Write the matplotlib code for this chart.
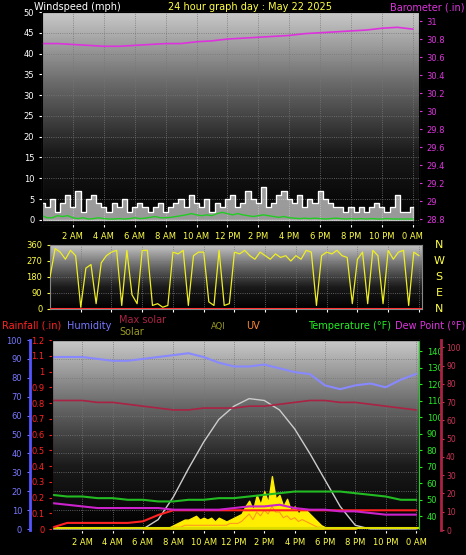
import numpy as np
import matplotlib.pyplot as plt
from matplotlib.colors import LinearSegmentedColormap

W, H = 466, 555
hour_labels = ['2 AM', '4 AM', '6 AM', '8 AM', '10 AM', '12 PM', '2 PM', '4 PM',
               '6 PM', '8 PM', '10 PM', '0 AM']
hour_ticks = [2, 4, 6, 8, 10, 12, 14, 16, 18, 20, 22, 24]

# wind (mph), every 20 min
t_wind = np.arange(0, 24.01, 1 / 3)
gust = [4, 3, 5, 2, 4, 6, 3, 7, 2, 5, 6, 4, 3, 2, 4, 3, 5, 2, 3, 4, 3, 2, 3, 4,
        2, 3, 4, 5, 3, 6, 4, 3, 5, 2, 4, 3, 5, 6, 3, 4, 7, 5, 4, 8, 3, 4, 6, 7,
        5, 4, 6, 3, 5, 4, 7, 5, 4, 3, 3, 2, 3, 2, 3, 2, 3, 4, 3, 2, 3, 6, 2, 2,
        3]
wavg = [1, 0.5, 0.5, 1, 0.8, 1, 0.5, 0.3, 0.5, 0.2, 0.3, 0.5, 0.3, 0.2, 0.2, 0.3,
        0.2, 0.3, 0.5, 0.3, 0.4, 0.6, 0.8, 0.5, 0.5, 0.6, 0.8, 1, 1.2, 1.5, 1.2,
        1, 1.2, 1, 1.5, 1.8, 1.5, 1.2, 1.5, 1.2, 1, 0.8, 1, 1.2, 1, 0.8, 0.6,
        0.8, 0.5, 0.4, 0.3, 0.4, 0.3, 0.4, 0.3, 0.2, 0.3, 0.4, 0.3, 0.2, 0.3,
        0.2, 0.3, 0.2, 0.3, 0.2, 0.2, 0.3, 0.2, 0.2, 0.2, 0.2, 0.2]

# barometer (in), hourly
t_hour = np.arange(0, 25)
baro = [30.75, 30.75, 30.74, 30.73, 30.72, 30.72, 30.73, 30.74, 30.75, 30.75,
        30.77, 30.78, 30.80, 30.81, 30.82, 30.83, 30.84, 30.86, 30.87, 30.88,
        30.89, 30.90, 30.92, 30.93, 30.91]

# wind direction (deg), every 20 min
wdir = [180, 340, 320, 280, 330, 300, 10, 230, 250, 30, 260, 300, 320, 330, 20,
        330, 80, 30, 330, 330, 20, 30, 10, 20, 320, 310, 330, 20, 300, 320, 320,
        40, 20, 330, 20, 30, 320, 310, 330, 300, 280, 320, 300, 280, 310, 290,
        300, 270, 300, 280, 330, 320, 20, 300, 320, 310, 330, 300, 290, 30, 280,
        320, 30, 330, 300, 30, 330, 280, 320, 330, 20, 320, 300]

# bottom panel, hourly
humidity = [91, 91, 91, 90, 89, 89, 90, 91, 92, 93, 91, 88, 86, 86, 87, 85,
            83, 82, 76, 74, 76, 77, 75, 79, 82]
maxsolar = [68, 68, 68, 67, 67, 66, 65, 64, 63, 63, 64, 64, 64, 65, 65, 66,
            67, 68, 68, 67, 67, 66, 65, 64, 63]
theo_solar = [0, 0, 0, 0, 0, 0, 0, 5, 17, 32, 46, 58, 65, 69, 68, 63, 53,
              40, 26, 12, 2, 0, 0, 0, 0]
temperature = [53, 52, 52, 51, 51, 50, 50, 49, 49, 50, 50, 51, 51, 52, 53, 54,
               55, 55, 55, 55, 54, 53, 52, 50, 50]
dewpoint = [48, 47, 46, 45, 45, 45, 45, 45, 44, 44, 44, 44, 45, 46, 46, 47,
            45, 44, 44, 43, 43, 42, 41, 41, 41]
rain = [0.01, 0.04, 0.04, 0.04, 0.04, 0.04, 0.05, 0.09, 0.12, 0.12, 0.12, 0.12,
        0.12, 0.12, 0.12, 0.12, 0.12, 0.12, 0.12, 0.12, 0.12, 0.12, 0.12, 0.12,
        0.12]
t_sol = np.arange(6, 20.01, 0.25)
solar = [0, 0, 0, 0, 0, 0, 0, 1, 2, 3, 4, 5, 5, 6, 7, 5, 6, 5, 6, 4, 6, 5, 4,
         5, 6, 7, 8, 12, 15, 10, 18, 13, 20, 14, 28, 16, 18, 12, 16, 10, 12, 8,
         11, 10, 8, 6, 4, 2, 1, 1, 0, 0, 0, 0, 0, 0, 0]
uv = [0, 0, 0, 0, 0, 0, 0, 0, 1, 1, 1, 2, 2, 2, 2, 2, 2, 2, 2, 2, 2, 2, 2, 3,
      3, 3, 4, 6, 8, 5, 9, 7, 10, 8, 12, 9, 9, 6, 7, 5, 6, 4, 5, 4, 3, 2, 1, 1,
      0, 0, 0, 0, 0, 0, 0, 0, 0]

plt.rcParams['font.family'] = 'DejaVu Sans'
plt.rcParams['font.size'] = 6
fig = plt.figure(figsize=(W / 100, H / 100), dpi=100, facecolor='black')

cmap = LinearSegmentedColormap.from_list('bg', ['#c8c8c8', '#6a6a6a', '#1a1a1a', '#000000'])


def box(l, t, r, b):
    return fig.add_axes([l / W, 1 - b / H, (r - l) / W, (b - t) / H])


def style(ax, grad=True):
    ax.set_facecolor('black')
    if grad:
        ax.imshow(np.linspace(0, 1, 100)[:, None], aspect='auto', cmap=cmap,
                  extent=[0, 1, 0, 1], transform=ax.transAxes, zorder=0)
    for s in ax.spines.values():
        s.set_color('#888888')
    ax.grid(True, color='#777777', ls=':', lw=0.6)
    ax.set_xticks(hour_ticks)
    ax.tick_params(colors='white', labelsize=6, length=2)


# ---- panel 1: wind + barometer
ax1 = box(42, 12, 419, 224)
style(ax1)
ax1.fill_between(t_wind, gust, step='mid', color='white', alpha=0.6, zorder=2)
ax1.step(t_wind, gust, where='mid', color='white', lw=0.8, zorder=3)
ax1.plot(t_wind, wavg, color='#22cc22', lw=1, zorder=4)
ax1.set_xlim(0, 24.4)
ax1.set_ylim(-1, 50)
ax1.set_yticks(range(0, 51, 5))
ax1.set_xticklabels(hour_labels, color='#ffff44')
ax1.tick_params(axis='y', colors='white')
b1 = ax1.twinx()
b1.plot(t_hour, baro, color='#dd33dd', lw=1.2)
b1.set_ylim(28.75, 31.1)
b1.set_yticks(np.arange(28.8, 31.01, 0.2))
b1.set_yticklabels([f'{v:g}' for v in np.arange(28.8, 31.01, 0.2).round(1)])
b1.tick_params(colors='#dd33dd', labelsize=6, length=2)
fig.text(34 / W, 1 - 7 / H, 'Windspeed (mph)', color='white', fontsize=7, va='center')
fig.text(250 / W, 1 - 7 / H, '24 hour graph day : May 22 2025', color='#ffff44',
         fontsize=7, va='center', ha='center')
fig.text(465 / W, 1 - 7 / H, 'Barometer (.in)', color='#dd33dd', fontsize=7,
         va='center', ha='right')

# ---- panel 2: wind direction
ax2 = box(50, 245, 422, 309)
style(ax2)
ax2.plot(t_wind, wdir, color='#eeee22', lw=0.9, zorder=3)
ax2.set_xlim(0, 24.2)
ax2.set_ylim(0, 360)
ax2.set_yticks([0, 90, 180, 270, 360])
ax2.tick_params(axis='y', colors='#ffff44')
ax2.set_xticklabels([])
ax2.axhline(0, color='#ff3333', lw=1.5, zorder=4)
for i, c in enumerate('NWSEN'):
    fig.text(439 / W, 1 - (245 + i * 16) / H, c, color='#ffff44', fontsize=8,
             ha='center', va='center')

# ---- panel 3
ax3 = box(52, 340, 419, 530)
style(ax3)
ax3.set_xlim(0, 24.2)
ax3.set_ylim(-0.5, 100)
ax3.set_yticks(range(0, 101, 10))
ax3.tick_params(axis='y', colors='#7777ff')
ax3.set_xticklabels(hour_labels, color='#ffff44')
ax3.spines['left'].set_position(('outward', 16))
ax3.spines['left'].set_color('#5555ff')
ax3.spines['left'].set_linewidth(2)
ax3.fill_between(t_sol, solar, color='#ffee00', zorder=3)
ax3.plot(t_sol, uv, color='#ff9922', lw=0.8, zorder=4)
ax3.plot(t_hour, theo_solar, color='#cccccc', lw=1, zorder=3)
ax3.plot(t_hour, maxsolar, color='#aa2244', lw=1.2, zorder=3)
ax3.plot(t_hour, humidity, color='#8888ff', lw=1.5, zorder=3)
ax3.axhline(0.3, color='#dddd00', lw=1.5, zorder=4)

r3 = ax3.twinx()
r3.yaxis.tick_left()
r3.spines['left'].set_visible(True)
r3.spines['left'].set_color('#ff2222')
r3.spines['left'].set_linestyle(':')
r3.plot(t_hour, rain, color='#ff2222', lw=1.5, zorder=5)
r3.set_ylim(-0.005, 1.2)
r3.set_yticks(np.arange(0, 1.21, 0.1))
r3.set_yticklabels(['0', '0.1', '0.2', '0.3', '0.4', '0.5', '0.6', '0.7', '0.8',
                    '0.9', '1', '1.1', '1.2'])
r3.tick_params(colors='#ff2222', labelsize=6, length=2)

tp = ax3.twinx()
tp.plot(t_hour, temperature, color='#22bb22', lw=1.5)
tp.plot(t_hour, dewpoint, color='#cc22cc', lw=1.5)
tp.set_ylim(31.7, 146.8)
tp.set_yticks(range(40, 141, 10))
tp.tick_params(colors='#22ee22', labelsize=6, length=2)
tp.spines['right'].set_color('#22cc22')

dp = ax3.twinx()
dp.spines['right'].set_position(('outward', 16))
dp.spines['right'].set_color('#aa2244')
dp.spines['right'].set_linewidth(2)
dp.set_ylim(0, 104)
dp.set_yticks(range(0, 101, 10))
dp.tick_params(colors='#cc3355', labelsize=5.5, length=2, pad=1.5)
dp.set_xlim(0, 24.2)

fy = 1 - 326 / H
fig.text(2 / W, fy, 'Rainfall (.in)', color='#ff2222', fontsize=7, va='center')
fig.text(67 / W, fy, 'Humidity', color='#7777ff', fontsize=7, va='center')
fig.text(119 / W, 1 - 320 / H, 'Max solar', color='#aa2244', fontsize=7, va='center')
fig.text(119 / W, 1 - 332 / H, 'Solar', color='#999922', fontsize=7, va='center')
fig.text(211 / W, fy, 'AQI', color='#999922', fontsize=6, va='center')
fig.text(246 / W, fy, 'UV', color='#ff8833', fontsize=7, va='center')
fig.text(391 / W, fy, 'Temperature (°F)', color='#22ee22', fontsize=7,
         va='center', ha='right')
fig.text(465 / W, fy, 'Dew Point (°F)', color='#dd33dd', fontsize=7,
         va='center', ha='right')

fig.savefig('out.png', dpi=100, facecolor='black')
